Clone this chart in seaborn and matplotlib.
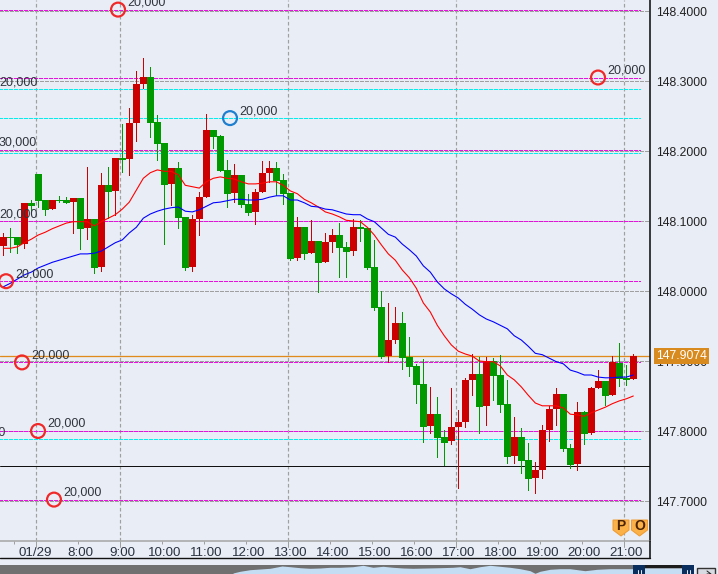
import matplotlib
matplotlib.use("Agg")
import matplotlib.pyplot as plt
import pandas as pd
import seaborn as sns
from matplotlib.patches import Polygon, Rectangle

# 10 minute candles, first one is index 0 (9:00 is index 17)
opens = [148.064, 148.077, 148.077, 148.067, 148.126, 148.167, 148.130, 148.117, 148.130, 148.130,
         148.127, 148.133, 148.090, 148.103, 148.034, 148.151, 148.143, 148.190, 148.189, 148.240,
         148.296, 148.306, 148.241, 148.211, 148.153, 148.176, 148.106, 148.034, 148.103, 148.134,
         148.230, 148.221, 148.173, 148.140, 148.166, 148.124, 148.113, 148.141, 148.169, 148.176,
         148.159, 148.140, 148.047, 148.091, 148.054, 148.071, 148.041, 148.070, 148.080, 148.063,
         148.057, 148.091, 148.090, 148.034, 147.977, 147.907, 147.930, 147.954, 147.906, 147.893,
         147.867, 147.807, 147.824, 147.791, 147.786, 147.806, 147.813, 147.873, 147.881, 147.836,
         147.900, 147.880, 147.839, 147.764, 147.791, 147.759, 147.733, 147.744, 147.801, 147.831,
         147.853, 147.776, 147.753, 147.827, 147.797, 147.861, 147.871, 147.851, 147.897, 147.876,
         147.874]
highs = [148.083, 148.090, 148.077, 148.126, 148.130, 148.167, 148.130, 148.130, 148.136, 148.134,
         148.133, 148.133, 148.177, 148.103, 148.169, 148.177, 148.190, 148.239, 148.261, 148.314,
         148.333, 148.320, 148.251, 148.211, 148.176, 148.184, 148.106, 148.109, 148.141, 148.253,
         148.230, 148.223, 148.187, 148.181, 148.166, 148.139, 148.146, 148.186, 148.186, 148.184,
         148.167, 148.140, 148.106, 148.091, 148.101, 148.071, 148.083, 148.089, 148.097, 148.070,
         148.103, 148.101, 148.090, 148.073, 148.000, 147.983, 147.977, 147.970, 147.934, 147.896,
         147.903, 147.863, 147.849, 147.801, 147.861, 147.830, 147.876, 147.910, 147.906, 147.906,
         147.904, 147.909, 147.873, 147.820, 147.804, 147.783, 147.756, 147.809, 147.836, 147.861,
         147.853, 147.781, 147.841, 147.829, 147.863, 147.887, 147.871, 147.907, 147.926, 147.894,
         147.910]
lows = [148.051, 148.056, 148.054, 148.061, 148.113, 148.120, 148.109, 148.117, 148.127, 148.126,
        148.083, 148.060, 148.074, 148.026, 148.029, 148.104, 148.109, 148.170, 148.166, 148.214,
        148.290, 148.220, 148.187, 148.067, 148.123, 148.090, 148.030, 148.029, 148.080, 148.134,
        148.204, 148.171, 148.120, 148.127, 148.120, 148.109, 148.096, 148.141, 148.156, 148.137,
        148.124, 148.044, 148.044, 148.046, 148.054, 147.999, 148.041, 148.056, 148.020, 148.020,
        148.051, 148.071, 148.031, 147.973, 147.904, 147.899, 147.926, 147.889, 147.879, 147.840,
        147.784, 147.797, 147.763, 147.751, 147.781, 147.719, 147.806, 147.851, 147.797, 147.809,
        147.844, 147.827, 147.754, 147.754, 147.740, 147.716, 147.711, 147.733, 147.786, 147.809,
        147.771, 147.747, 147.744, 147.781, 147.796, 147.861, 147.837, 147.851, 147.864, 147.866,
        147.874]
closes = [148.077, 148.076, 148.066, 148.126, 148.121, 148.129, 148.116, 148.130, 148.129, 148.126,
          148.133, 148.089, 148.103, 148.033, 148.151, 148.141, 148.190, 148.187, 148.240, 148.296,
          148.306, 148.240, 148.210, 148.151, 148.176, 148.104, 148.033, 148.103, 148.134, 148.230,
          148.220, 148.171, 148.139, 148.166, 148.123, 148.111, 148.141, 148.169, 148.176, 148.157,
          148.139, 148.046, 148.091, 148.053, 148.071, 148.040, 148.070, 148.080, 148.061, 148.056,
          148.091, 148.089, 148.033, 147.976, 147.906, 147.930, 147.954, 147.904, 147.891, 147.866,
          147.806, 147.824, 147.790, 147.783, 147.806, 147.813, 147.873, 147.881, 147.834, 147.900,
          147.879, 147.837, 147.763, 147.791, 147.757, 147.731, 147.744, 147.801, 147.831, 147.853,
          147.774, 147.751, 147.827, 147.796, 147.861, 147.871, 147.850, 147.899, 147.874, 147.873,
          147.9074]

ma_fast = [148.061, 148.061, 148.063, 148.069, 148.074, 148.080, 148.084, 148.089, 148.093, 148.097,
           148.099, 148.099, 148.099, 148.093, 148.099, 148.104, 148.109, 148.117, 148.127, 148.144,
           148.161, 148.169, 148.173, 148.171, 148.171, 148.166, 148.151, 148.149, 148.147, 148.156,
           148.161, 148.163, 148.161, 148.160, 148.156, 148.153, 148.153, 148.154, 148.156, 148.156,
           148.151, 148.143, 148.139, 148.131, 148.126, 148.120, 148.113, 148.110, 148.106, 148.101,
           148.100, 148.099, 148.091, 148.080, 148.066, 148.053, 148.044, 148.030, 148.019, 148.004,
           147.983, 147.970, 147.951, 147.936, 147.923, 147.914, 147.910, 147.907, 147.900, 147.899,
           147.899, 147.893, 147.880, 147.873, 147.863, 147.851, 147.840, 147.836, 147.836, 147.836,
           147.833, 147.824, 147.823, 147.821, 147.826, 147.830, 147.834, 147.839, 147.843, 147.846,
           147.850]
ma_slow = [148.006, 148.011, 148.017, 148.023, 148.027, 148.033, 148.037, 148.041, 148.044, 148.047,
           148.050, 148.053, 148.053, 148.054, 148.057, 148.063, 148.069, 148.073, 148.083, 148.091,
           148.104, 148.110, 148.114, 148.117, 148.119, 148.120, 148.114, 148.113, 148.116, 148.121,
           148.126, 148.127, 148.129, 148.131, 148.131, 148.130, 148.130, 148.131, 148.134, 148.136,
           148.136, 148.130, 148.130, 148.126, 148.121, 148.120, 148.117, 148.116, 148.113, 148.110,
           148.109, 148.109, 148.103, 148.099, 148.090, 148.081, 148.077, 148.067, 148.059, 148.050,
           148.036, 148.027, 148.013, 148.003, 147.996, 147.990, 147.981, 147.974, 147.966, 147.960,
           147.956, 147.951, 147.946, 147.936, 147.930, 147.921, 147.911, 147.909, 147.904, 147.899,
           147.896, 147.887, 147.884, 147.880, 147.880, 147.877, 147.876, 147.876, 147.877, 147.877,
           147.880]

price_ticks = [148.4, 148.3, 148.2, 148.1, 148.0, 147.9, 147.8, 147.7]
hour_labels = ["01/29", "8:00", "9:00", "10:00", "11:00", "12:00", "13:00", "14:00",
               "15:00", "16:00", "17:00", "18:00", "19:00", "20:00", "21:00"]
last_price = 147.9074

magenta_levels = [148.402, 148.305, 148.202, 148.100, 148.014, 147.898, 147.800, 147.702]
cyan_levels = [148.288, 148.247, 148.197, 147.788]
orange_level = 147.907
black_level = 147.750

# order positions: index on the candle axis, price, size text
order_x = [16.39, 84.96, 32.39, 0.39, 2.67, 4.96, 7.24]
order_price = [148.402, 148.305, 148.247, 148.014, 147.898, 147.800, 147.702]
order_color = ["#f02828", "#f02828", "#1e7fd0", "#f02828", "#f02828", "#f02828", "#f02828"]
order_text = ["20,000"] * 7
# these sit left of the chart, only their text reaches in
hidden_x = [-1.9, -1.9, -1.9, -6.4]
hidden_price = [148.288, 148.202, 148.100, 147.788]
hidden_text = ["20,000", "30,000", "20,000", "20,000"]

# navigator strip at the bottom
strip_x = [233, 240, 250, 260, 270, 282, 290, 300, 310, 320, 330, 340, 353, 363, 373, 383, 393, 403,
           413, 427, 440, 453, 460, 470, 480, 490, 500, 510, 520, 530, 535, 540, 550, 560, 570, 585,
           597, 610, 623, 633, 645, 660, 682]
strip_y = [1, 2.7, 4.3, 5, 5.7, 8, 7.3, 6.3, 5.7, 6, 6.7, 6.7, 7.3, 8.7, 6.7, 7.7, 6.7, 6,
           5.7, 6, 6.3, 6.7, 7.3, 5.3, 7.3, 8.7, 7.7, 6.7, 5.3, 3.3, 0.7, 2.7, 4.7, 5.3, 5.3, 3.3,
           4.7, 5.3, 5.3, 5.3, 6, 6, 6]

BG = "#e9edf5"
W, H = 718, 574
sns.set_theme(style="white", rc={"axes.facecolor": BG, "figure.facecolor": BG})
plt.rcParams["font.family"] = ["Liberation Sans", "DejaVu Sans"]

fig = plt.figure(figsize=(W / 100, H / 100), dpi=100)
ax = fig.add_axes([0, (H - 541) / H, 649.5 / W, 541 / H])
PX = 0.72  # one pixel in points

idx = list(range(len(opens)))
candles = pd.DataFrame({"x": idx, "o": opens, "h": highs, "l": lows, "c": closes,
                        "fast": ma_fast, "slow": ma_slow})
candles["color"] = ["#cc0000" if c >= o else "#009900" for o, c in zip(opens, closes)]
candles["bottom"] = candles[["o", "c"]].min(axis=1)
candles["height"] = (candles["c"] - candles["o"]).abs()

# grid
grid_x = [4.67, 16.67, 40.67, 64.67, 88.67]
for y in price_ticks:
    ax.axhline(y, color="#a0a0a0", lw=PX, ls=(0, (3, 2)), antialiased=False, zorder=1)
for x in grid_x:
    ax.axvline(x, color="#a0a0a0", lw=PX * 1.2, ls=(0, (3, 2)), zorder=1)
    ax.plot([x, x], [0, -0.012], color="#a0a0a0", lw=PX, clip_on=False,
            transform=ax.get_xaxis_transform(), zorder=1)

for y in magenta_levels:
    ax.plot([-1, 91], [y, y], color="#e810e0", lw=PX, ls=(0, (4, 2)), antialiased=False, zorder=2)
for y in cyan_levels:
    ax.plot([-1, 91], [y, y], color="#00f0f0", lw=PX, ls=(0, (4, 2)), antialiased=False, zorder=2)
ax.axhline(orange_level, color="#e08a1e", lw=PX * 1.3, zorder=2)
ax.axhline(black_level, color="#111111", lw=PX, zorder=2)

# candles
ax.vlines(candles["x"], candles["l"], candles["h"], colors=candles["color"], lw=PX,
          antialiased=False, zorder=3)
ax.bar(candles["x"], candles["height"], bottom=candles["bottom"], width=1.04,
       color=candles["color"], linewidth=0, antialiased=False, zorder=4)

sns.lineplot(data=candles, x="x", y="fast", color="#ff0000", linewidth=PX * 1.1, ax=ax,
             estimator=None, sort=False, zorder=5)
sns.lineplot(data=candles, x="x", y="slow", color="#0000ff", linewidth=PX * 1.1, ax=ax,
             estimator=None, sort=False, zorder=5)

# orders
ax.scatter(order_x, order_price, s=100, facecolors="none", edgecolors=order_color,
           linewidths=PX * 2.2, zorder=6, clip_on=True)
for x, y, label in zip(order_x + hidden_x, order_price + hidden_price, order_text + hidden_text):
    ax.annotate(label, (x, y), xytext=(9 * PX, 7 * PX), textcoords="offset points",
                fontsize=9, color="#30343c", va="center", ha="left",
                annotation_clip=False, clip_on=True, zorder=7)

ax.set_xlim(-3.3 / 7, (649.5 - 3.3) / 7)
ax.set_ylim(148.4 - 530 / 700, 148.4 + 11 / 700)
ax.set_xlabel("")
ax.set_ylabel("")

ax.yaxis.tick_right()
ax.set_yticks(price_ticks)
ax.set_yticklabels([f"{p:.4f}" for p in price_ticks], fontsize=8.8, color="#222222")
ax.tick_params(axis="y", length=0, pad=4.5)

label_x = [4.6] + [5 + 6 * k for k in range(1, len(hour_labels))]
ax.set_xticks(label_x)
ax.set_xticklabels(hour_labels, fontsize=9.6, color="#2a3240")
ax.tick_params(axis="x", length=0, pad=4.2)
ax.set_xticks([1.53] + [4.67 + 6 * k for k in range(15)], minor=True)
ax.tick_params(axis="x", which="minor", length=3 * PX, width=PX, color="#a0a0a0", bottom=True)

for side in ["top", "left"]:
    ax.spines[side].set_visible(False)
ax.spines["bottom"].set_color("#a8a8a8")
ax.spines["bottom"].set_linewidth(PX * 1.6)
ax.spines["right"].set_color("#111111")
ax.spines["right"].set_linewidth(PX * 1.6)

# last price tag over the tick label
ax.text(1 + 6.5 / 649.5, last_price, f"{last_price:.4f}", transform=ax.get_yaxis_transform(),
        fontsize=8.8, color="white", va="center", ha="left", clip_on=False,
        zorder=20, bbox=dict(facecolor="#d98a1e", edgecolor="none", pad=1.6))

# overlay in pixels: frame, navigator strip, P and O badges
ov = fig.add_axes([0, 0, 1, 1], facecolor="none")
ov.set_xlim(0, W)
ov.set_ylim(H, 0)
ov.axis("off")
ov.plot([0, 650], [558, 558], color="#111111", lw=PX * 1.4)
ov.plot([649.7, 649.7], [541, 558], color="#111111", lw=PX * 1.6)

ov.add_patch(Rectangle((0, 565), 697, 9, facecolor="#707070", edgecolor="none"))
ov.fill_between(strip_x, [574 - v for v in strip_y], 574, color="#c5ddf2", linewidth=0)
ov.add_patch(Rectangle((645, 565), 37, 3, facecolor="#1c1c1c", edgecolor="none"))
ov.add_patch(Rectangle((682, 565), 15, 9, facecolor=BG, edgecolor="none"))
ov.add_patch(Rectangle((633, 565), 12, 9, facecolor="#0a2f5e", edgecolor="none"))
ov.add_patch(Rectangle((682, 565), 12, 9, facecolor="#0a2f5e", edgecolor="none"))
ov.add_patch(Rectangle((697, 567.5), 18, 8, facecolor="#d8dbe2", edgecolor="#333333", lw=PX * 1.4))
ov.plot([707, 711, 707], [571, 574, 574], color="#222222", lw=PX)
for hx in [638, 640.5, 687, 689.5]:
    ov.plot([hx, hx], [570, 574], color="#dfe8f2", lw=PX)

for left, letter in [(613, "P"), (631.5, "O")]:
    ov.add_patch(Polygon([(left, 520), (left + 16, 520), (left + 16, 530), (left + 8, 536), (left, 530)],
                         closed=True, facecolor="#fbb048", edgecolor="#f09a30", lw=PX))
    ov.text(left + 8, 526.5, letter, ha="center", va="center", fontsize=10, fontweight="bold",
            color="#4a2200")

plt.savefig("out.png", dpi=100, facecolor=BG)
